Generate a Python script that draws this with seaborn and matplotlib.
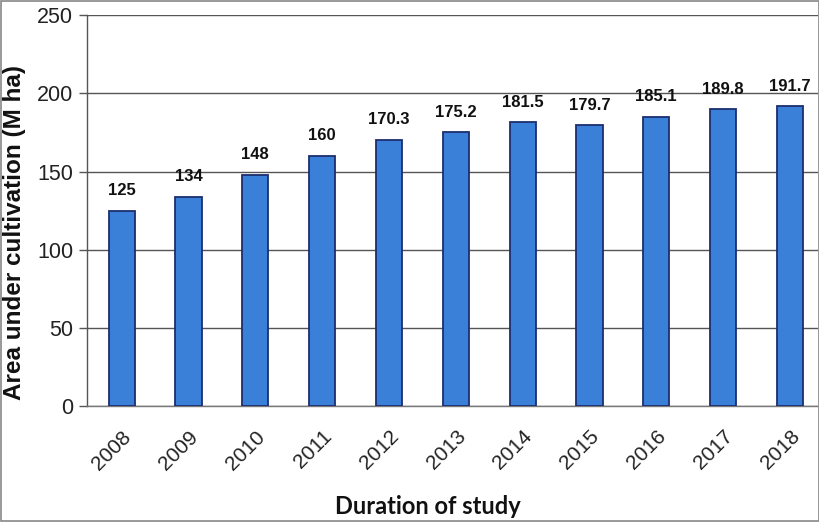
import matplotlib
matplotlib.use("Agg")
import matplotlib.pyplot as plt
import seaborn as sns
import pandas as pd
from matplotlib.patches import Rectangle
from matplotlib.font_manager import FontProperties

years = ["2008", "2009", "2010", "2011", "2012", "2013", "2014", "2015", "2016", "2017", "2018"]
area = [125, 134, 148, 160, 170.3, 175.2, 181.5, 179.7, 185.1, 189.8, 191.7]
labels = ["125", "134", "148", "160", "170.3", "175.2", "181.5", "179.7", "185.1", "189.8", "191.7"]
yticks = [0, 50, 100, 150, 200, 250]

sns.set_theme(style="white")
plt.rcParams["font.family"] = "Liberation Sans"

df = pd.DataFrame({"year": years, "area": area})

fig = plt.figure(figsize=(8.2, 5.22), dpi=100)
ax = fig.add_axes([0.106, 0.222, 0.8916, 0.749])

sns.barplot(data=df, x="year", y="area", color="#3a7fd8", saturation=1,
            width=0.39, edgecolor="#1c2e6e", linewidth=1.3, ax=ax, zorder=3)

for patch, txt in zip(ax.patches, labels):
    ax.annotate(txt, (patch.get_x() + patch.get_width() / 2, patch.get_height()),
                xytext=(0, 9), textcoords="offset points", ha="center", va="bottom",
                fontsize=12, fontweight="bold", color="#111111")

ax.set_ylim(0, 250)
ax.set_xlim(-0.52, 10.42)
ax.set_yticks(yticks)
ax.yaxis.grid(True, color="#555555", linewidth=1.0, zorder=0)
ax.set_axisbelow(True)

for side in ["top", "right"]:
    ax.spines[side].set_visible(False)
ax.spines["left"].set_color("#555555")
ax.spines["bottom"].set_color("#777777")
ax.spines["left"].set_linewidth(1.0)
ax.spines["bottom"].set_linewidth(1.0)

ax.tick_params(axis="y", which="major", left=True, length=6, width=1.0,
               color="#555555", labelsize=15.5, labelcolor="#222222", pad=4)
ax.tick_params(axis="x", bottom=False, labelsize=15, labelcolor="#222222", pad=9)
plt.setp(ax.get_xticklabels(), rotation=45, ha="right", rotation_mode="anchor")

xlabel_font = FontProperties(family="Lato", weight="bold", size=17)
ax.set_xlabel("Duration of study", fontproperties=xlabel_font, color="#111111")
ax.xaxis.set_label_coords(0.466, -0.228)
ax.set_ylabel("Area under cultivation (M ha)", fontsize=17.5, fontweight="bold", color="#111111")
ax.yaxis.set_label_coords(-0.083, 0.445)

fig.patches.append(Rectangle((0.001, 0.001), 0.998, 0.997, transform=fig.transFigure,
                             fill=False, edgecolor="#888888", linewidth=1.2))

fig.savefig("out.png", dpi=100)
